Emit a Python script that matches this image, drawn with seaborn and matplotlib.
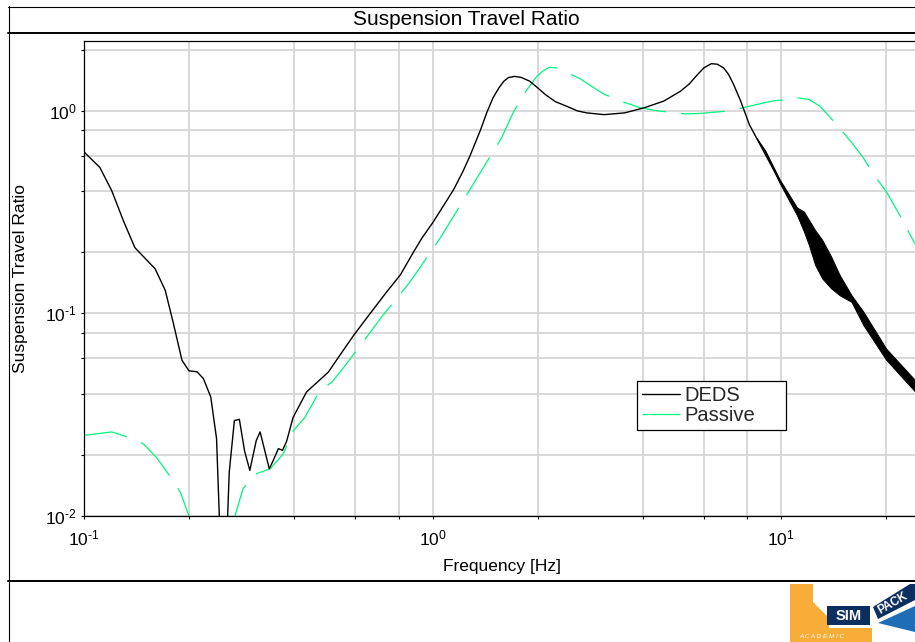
import matplotlib
matplotlib.use("Agg")
import matplotlib.pyplot as plt
import numpy as np
import pandas as pd
import seaborn as sns
from matplotlib.lines import Line2D
from matplotlib.patches import Polygon
from matplotlib.ticker import LogLocator, NullFormatter, FixedLocator, FixedFormatter

# ---------------------------------------------------------------- data
deds_freq = [0.100, 0.111, 0.120, 0.130, 0.140, 0.160, 0.171, 0.180, 0.191, 0.200,
             0.211, 0.220, 0.231, 0.240, 0.247, 0.252, 0.257, 0.261, 0.270, 0.279,
             0.289, 0.299, 0.312, 0.320, 0.340, 0.349, 0.361, 0.371, 0.381, 0.398,
             0.435, 0.502, 0.542, 0.594, 0.662, 0.739, 0.808, 0.883, 0.931, 1.00,
             1.08, 1.15, 1.22, 1.28, 1.37, 1.43, 1.49, 1.55, 1.60, 1.65,
             1.72, 1.80, 1.90, 2.00, 2.11, 2.25, 2.42, 2.60, 2.77, 3.10,
             3.55, 4.04, 4.60, 5.14, 5.45, 5.75, 6.00, 6.30, 6.55, 6.83,
             7.05, 7.30, 7.65, 8.10, 8.90, 9.90, 11.1, 12.0, 13.1, 14.7,
             15.9, 17.2, 20.0, 24.0, 25.0]
deds_ratio = [0.627, 0.526, 0.405, 0.284, 0.211, 0.166, 0.130, 0.091, 0.0587, 0.0521,
              0.0515, 0.0477, 0.0387, 0.0241, 0.006, 0.004, 0.008, 0.0165, 0.0296, 0.0300,
              0.0208, 0.0168, 0.0236, 0.0260, 0.0171, 0.0188, 0.0215, 0.0211, 0.0233, 0.0307,
              0.0410, 0.0513, 0.0622, 0.0781, 0.100, 0.128, 0.155, 0.202, 0.235, 0.280,
              0.345, 0.41, 0.50, 0.60, 0.80, 0.98, 1.16, 1.30, 1.40, 1.46,
              1.48, 1.46, 1.40, 1.30, 1.20, 1.11, 1.055, 1.00, 0.977, 0.958,
              0.977, 1.035, 1.117, 1.25, 1.36, 1.51, 1.63, 1.71, 1.70, 1.63,
              1.52, 1.35, 1.117, 0.855, 0.632, 0.449, 0.318, 0.25, 0.186, 0.138,
              0.118, 0.094, 0.063, 0.0446, 0.0416]

# envelope of the fast oscillation of the active system above ~8 Hz
band_freq = [8.5, 9.0, 9.9, 11.1, 11.6, 12.0, 12.5, 13.1, 13.9, 14.7,
             15.9, 17.2, 20.0, 24.0, 25.0]
band_low = [0.735, 0.622, 0.440, 0.305, 0.255, 0.218, 0.174, 0.149, 0.133, 0.123,
            0.114, 0.0876, 0.059, 0.0418, 0.039]
band_high = [0.735, 0.636, 0.458, 0.333, 0.319, 0.290, 0.258, 0.231, 0.191, 0.155,
             0.123, 0.102, 0.067, 0.0476, 0.0445]

passive_freq = [0.100, 0.120, 0.134, 0.148, 0.162, 0.180, 0.189, 0.200, 0.215, 0.235,
                0.255, 0.271, 0.286, 0.313, 0.342, 0.373, 0.398, 0.430, 0.476, 0.514,
                0.555, 0.662, 0.706, 0.850, 0.910, 1.05, 1.20, 1.40, 1.58, 1.70,
                1.85, 1.99, 2.08, 2.16, 2.27, 2.37, 2.50, 2.65, 2.84, 3.10,
                3.50, 3.95, 4.42, 5.30, 5.80, 7.13, 8.90, 9.50, 10.0, 11.1,
                12.0, 12.9, 13.5, 14.7, 16.0, 17.2, 18.5, 20.0, 22.0, 24.0,
                25.0]
passive_ratio = [0.0250, 0.0260, 0.0245, 0.0227, 0.0193, 0.0150, 0.0131, 0.0100, 0.007, 0.003,
                 0.006, 0.0100, 0.0137, 0.0162, 0.0171, 0.0203, 0.0263, 0.0307, 0.0418, 0.0458,
                 0.0539, 0.0806, 0.0938, 0.139, 0.164, 0.235, 0.341, 0.527, 0.741, 0.977,
                 1.25, 1.48, 1.58, 1.64, 1.63, 1.57, 1.51, 1.44, 1.33, 1.21,
                 1.11, 1.035, 1.00, 0.966, 0.970, 1.00, 1.095, 1.12, 1.13, 1.16,
                 1.14, 1.055, 0.97, 0.824, 0.69, 0.585, 0.48, 0.400, 0.30, 0.226,
                 0.205]

series_names = ["DEDS", "Passive"]
x_ticks = [0.1, 1, 10]
x_tick_labels = [r"$\mathdefault{10^{\text{-}1}}$", r"$\mathdefault{10^{0}}$",
                 r"$\mathdefault{10^{1}}$"]
y_ticks = [0.01, 0.1, 1]
y_tick_labels = [r"$\mathdefault{10^{\text{-}2}}$", r"$\mathdefault{10^{\text{-}1}}$",
                 r"$\mathdefault{10^{0}}$"]
title_text = "Suspension Travel Ratio"
x_label = "Frequency [Hz]"
y_label = "Suspension Travel Ratio"

# ---------------------------------------------------------------- style
sns.set_theme(style="white")
plt.rcParams["font.family"] = ["Liberation Sans", "DejaVu Sans"]
plt.rcParams["mathtext.fontset"] = "custom"
plt.rcParams["mathtext.rm"] = "Liberation Sans"
plt.rcParams["mathtext.it"] = "Liberation Sans:italic"
plt.rcParams["mathtext.bf"] = "Liberation Sans:bold"
plt.rcParams["lines.scale_dashes"] = False

GREEN = "#00f57e"
GRID = "#d6d6d6"
DASH = (31.7, 10.8)

W, H = 915, 642
fig = plt.figure(figsize=(W / 100, H / 100), dpi=100)
fig.patch.set_facecolor("white")


def fx(px):
    return px / W


def fy(py):
    return 1 - py / H


# plot area (its right end runs slightly past the page edge)
ax_l, ax_r, ax_t, ax_b = 84, 920, 40.7, 516
ax = fig.add_axes([fx(ax_l), fy(ax_b), (ax_r - ax_l) / W, (ax_b - ax_t) / H])
ax.set_facecolor("white")

deds_df = pd.DataFrame({"freq": deds_freq, "ratio": deds_ratio})
passive_df = pd.DataFrame({"freq": passive_freq, "ratio": passive_ratio})

sns.lineplot(data=deds_df, x="freq", y="ratio", ax=ax, color="black", lw=1.0,
             estimator=None, sort=False, label=series_names[0], zorder=3)
ax.fill_between(band_freq, band_low, band_high, color="black", lw=0.7, zorder=3)
sns.lineplot(data=passive_df, x="freq", y="ratio", ax=ax, color=GREEN, lw=0.9,
             estimator=None, sort=False, label=series_names[1], zorder=2)
ax.lines[-1].set_dashes(DASH)

ax.set_xscale("log")
ax.set_yscale("log")
ax.set_xlim(0.1, 25)
ax.set_ylim(0.01, 2.22)

ax.xaxis.set_major_locator(FixedLocator(x_ticks))
ax.xaxis.set_major_formatter(FixedFormatter(x_tick_labels))
ax.yaxis.set_major_locator(FixedLocator(y_ticks))
ax.yaxis.set_major_formatter(FixedFormatter(y_tick_labels))
for axis in (ax.xaxis, ax.yaxis):
    axis.set_minor_locator(LogLocator(base=10, subs=(2, 4, 6, 8), numticks=20))
    axis.set_minor_formatter(NullFormatter())

ax.grid(which="both", color=GRID, lw=1.3)
ax.set_axisbelow(True)
for side in ("left", "bottom", "top"):
    ax.spines[side].set_color("black")
    ax.spines[side].set_linewidth(0.9)
ax.spines["right"].set_visible(False)
ax.tick_params(which="both", direction="out", length=2.5, width=0.8, color="black",
               top=False, right=False, bottom=True, left=True)
ax.tick_params(axis="x", which="major", labelsize=12.5, pad=6.5, colors="black")
ax.tick_params(axis="y", which="major", labelsize=12.5, pad=2.5, colors="black")

ax.set_xlabel(x_label, fontsize=12.5, color="black")
ax.xaxis.set_label_coords(0.5, (ax_b - 566) / (ax_b - ax_t))
ax.xaxis.label.set_va("center")
ax.set_ylabel(y_label, fontsize=12.5, color="black")
ax.yaxis.set_label_coords((21 - ax_l) / (ax_r - ax_l), 0.5)
ax.yaxis.label.set_va("center")

leg_l, leg_t, leg_r = 637, 381, 786
leg = ax.legend(loc="upper left",
                bbox_to_anchor=(fx(leg_l), fy(leg_t) - 0.001, (leg_r - leg_l) / W, 0.001),
                bbox_transform=fig.transFigure, mode="expand", borderaxespad=0,
                fontsize=14.5, frameon=True, fancybox=False, framealpha=1,
                edgecolor="black", handlelength=1.9, handletextpad=0.2,
                borderpad=0.25, labelspacing=0.05)
leg.get_frame().set_linewidth(0.9)
leg.get_lines()[1].set_dashes(DASH)

# ---------------------------------------------------------------- page frame
fig.text(fx(466), fy(19.5), title_text, ha="center", va="center", fontsize=15,
         color="black")


def frame_line(xs, ys, lw):
    fig.add_artist(Line2D([fx(x) for x in xs], [fy(y) for y in ys],
                          color="black", lw=lw, transform=fig.transFigure))


frame_line([8, W + 5], [6.5, 6.5], 0.8)
frame_line([8.5, 8.5], [6, H + 5], 0.8)
frame_line([8, W + 5], [33, 33], 1.4)
frame_line([8, W + 5], [580.5, 580.5], 1.4)

# ---------------------------------------------------------------- logo
NAVY = "#0c2f5f"
ORANGE = "#f8ad38"
BLUE = "#1e6db5"


def patch(points, color):
    fig.add_artist(Polygon([(fx(x), fy(y)) for x, y in points], closed=True,
                           facecolor=color, edgecolor="none",
                           transform=fig.transFigure))


patch([(790, 584), (813, 584), (813, 602), (829, 618), (829, 628), (872, 628),
       (872, 642), (790, 642)], ORANGE)
patch([(827, 606), (870, 606), (870, 625), (827, 625)], NAVY)
patch([(878, 623), (915, 606), (915, 632)], BLUE)
patch([(873, 607), (878, 619), (915, 600), (915, 584), (910, 584)], NAVY)
fig.text(fx(848.5), fy(616), "SIM", ha="center", va="center", fontsize=10.5,
         fontweight="bold", color="white")
fig.text(fx(893), fy(603), "PACK", ha="center", va="center", fontsize=8.5,
         fontweight="bold", color="white", rotation=30, rotation_mode="anchor")
fig.text(fx(822), fy(636.5), "A C A D E M I C", ha="center", va="center",
         fontsize=4.6, fontstyle="italic", color="white")

fig.savefig("out.png", dpi=100, facecolor="white")
